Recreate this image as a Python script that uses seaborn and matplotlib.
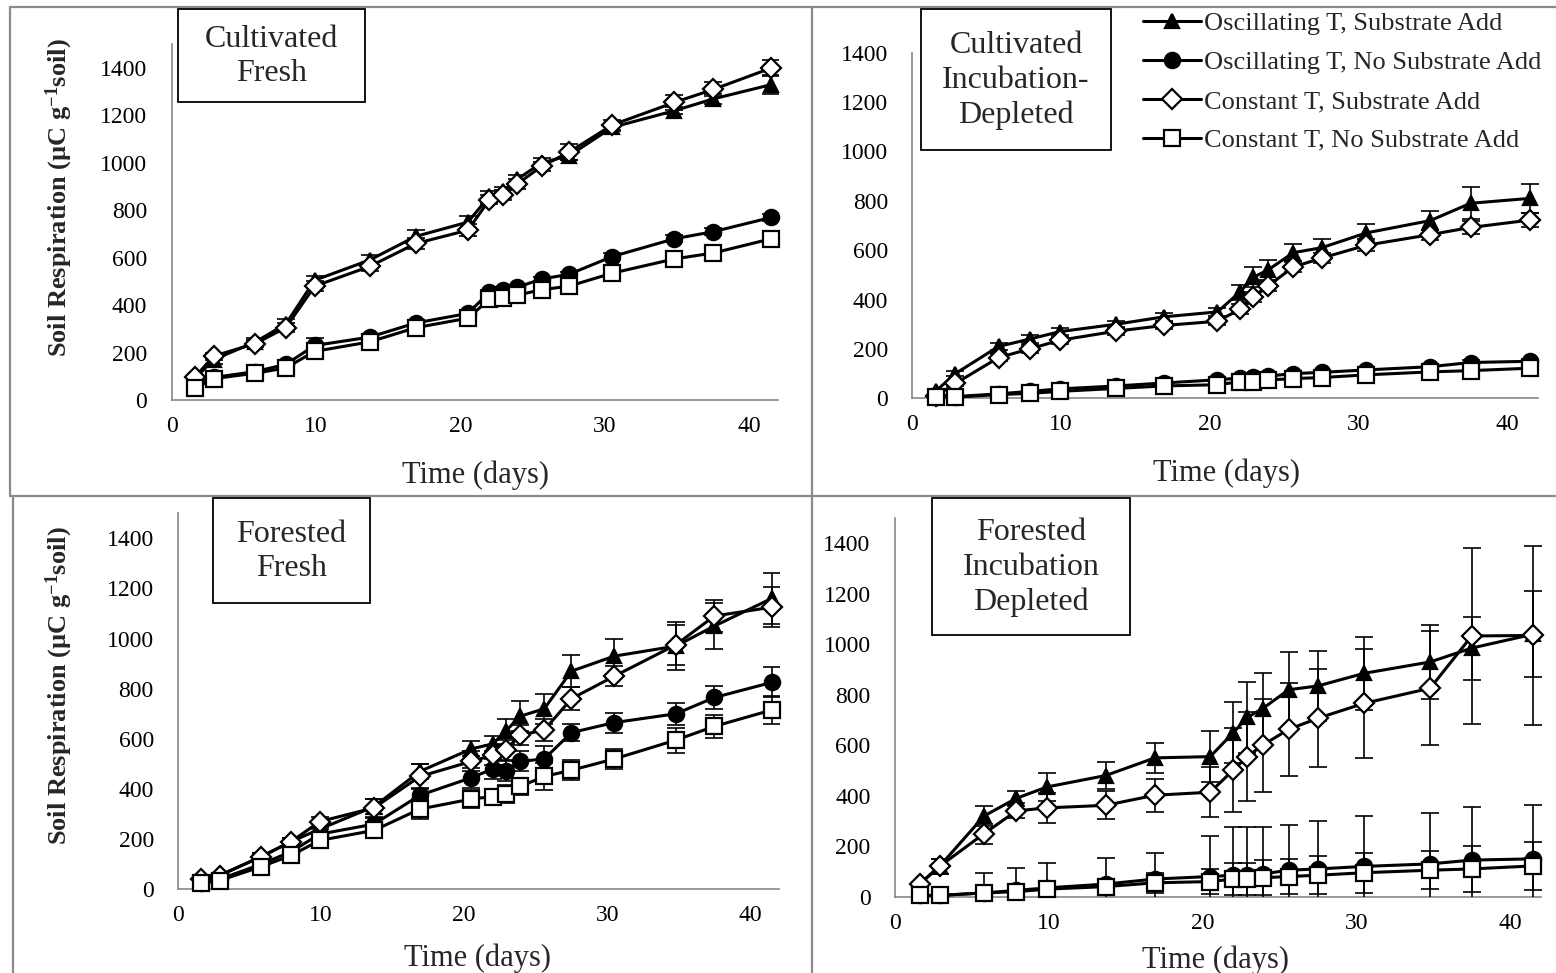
import matplotlib
matplotlib.use("Agg")
import matplotlib.pyplot as plt
import seaborn as sns
from matplotlib.patches import Rectangle
from matplotlib.lines import Line2D

# ---------------- data ----------------
days = [1.6, 2.9, 5.8, 7.9, 9.9, 13.7, 16.9, 20.5, 22.0, 22.9, 23.9, 25.6, 27.5, 30.5, 34.8, 37.5, 41.5]

series_labels = ["Oscillating T, Substrate Add", "Oscillating T, No Substrate Add",
                 "Constant T, Substrate Add", "Constant T, No Substrate Add"]
panel_titles = ["Cultivated\nFresh", "Cultivated\nIncubation-\nDepleted",
                "Forested\nFresh", "Forested\nIncubation\nDepleted"]
x_ticks = [0, 10, 20, 30, 40]
y_ticks = [0, 200, 400, 600, 800, 1000, 1200, 1400]

# Cultivated Fresh
cf_osc_sub = [90, 170, 245, 320, 505, 590, 690, 750, 860, 880, 930, 1000, 1030, 1150, 1220, 1270, 1330]
cf_osc_nosub = [70, 95, 120, 150, 230, 265, 325, 365, 455, 465, 475, 510, 530, 605, 680, 710, 770]
cf_con_sub = [95, 185, 238, 305, 480, 563, 660, 716, 845, 865, 910, 985, 1045, 1160, 1255, 1310, 1400]
cf_con_nosub = [50, 90, 113, 135, 205, 245, 305, 345, 425, 430, 442, 465, 480, 535, 595, 620, 680]
cf_osc_sub_err = [10, 20, 15, 20, 20, 20, 25, 25, 20, 20, 20, 20, 20, 15, 15, 20, 40]
cf_osc_nosub_err = [5, 10, 10, 10, 30, 10, 10, 10, 10, 10, 10, 10, 10, 15, 15, 15, 15]
cf_con_sub_err = [10, 15, 15, 20, 20, 20, 25, 25, 20, 20, 20, 20, 35, 20, 30, 30, 35]
cf_con_nosub_err = [5, 10, 10, 10, 15, 10, 10, 10, 10, 10, 10, 10, 10, 15, 15, 15, 15]

# Cultivated Incubation-Depleted
cid_osc_sub = [30, 100, 210, 240, 270, 300, 330, 350, 430, 490, 520, 590, 610, 670, 720, 790, 810]
cid_osc_nosub = [7, 7, 18, 28, 38, 50, 62, 75, 82, 85, 90, 100, 105, 115, 128, 145, 150]
cid_con_sub = [10, 60, 165, 200, 235, 272, 295, 312, 360, 410, 455, 532, 568, 620, 663, 692, 722]
cid_con_nosub = [5, 5, 15, 20, 28, 40, 50, 55, 67, 68, 74, 80, 84, 95, 107, 112, 122]
cid_osc_sub_err = [5, 10, 15, 15, 15, 15, 15, 15, 30, 40, 40, 35, 35, 35, 40, 65, 60]
cid_osc_nosub_err = [3, 3, 5, 5, 5, 5, 5, 5, 5, 5, 5, 8, 8, 8, 8, 10, 10]
cid_con_sub_err = [5, 10, 15, 15, 15, 15, 15, 15, 20, 20, 20, 20, 20, 25, 20, 25, 30]
cid_con_nosub_err = [3, 3, 5, 5, 5, 5, 5, 5, 5, 5, 5, 5, 5, 5, 5, 8, 8]

# Forested Fresh
ff_osc_sub = [35, 55, 130, 190, 240, 330, 470, 560, 580, 630, 690, 720, 870, 930, 970, 1050, 1160]
ff_osc_nosub = [25, 40, 100, 150, 220, 260, 375, 445, 480, 470, 510, 520, 625, 665, 700, 765, 825]
ff_con_sub = [40, 55, 130, 190, 270, 325, 450, 510, 535, 555, 615, 635, 760, 850, 975, 1090, 1125]
ff_con_nosub = [25, 35, 90, 135, 195, 235, 320, 360, 370, 380, 410, 450, 475, 520, 595, 650, 715]
ff_osc_sub_err = [10, 10, 15, 15, 20, 30, 30, 30, 30, 50, 60, 60, 65, 70, 95, 90, 100]
ff_osc_nosub_err = [5, 10, 15, 15, 20, 25, 30, 40, 40, 40, 40, 50, 35, 40, 45, 45, 60]
ff_con_sub_err = [10, 10, 15, 15, 20, 35, 50, 40, 40, 40, 40, 45, 45, 40, 80, 65, 80]
ff_con_nosub_err = [5, 10, 15, 15, 20, 20, 40, 35, 30, 35, 35, 55, 40, 40, 50, 45, 55]

# Forested Incubation Depleted
fid_osc_sub = [50, 120, 320, 390, 435, 480, 550, 555, 650, 710, 745, 820, 835, 885, 930, 985, 1040]
fid_osc_nosub = [5, 5, 15, 25, 35, 50, 70, 80, 85, 85, 90, 105, 110, 120, 130, 145, 150]
fid_con_sub = [50, 120, 250, 340, 352, 362, 402, 414, 502, 555, 600, 663, 707, 766, 826, 1033, 1035]
fid_con_nosub = [5, 5, 15, 20, 30, 40, 55, 60, 70, 70, 75, 80, 85, 95, 105, 110, 122]
fid_osc_sub_err = [10, 30, 40, 30, 55, 55, 60, 100, 120, 140, 140, 150, 140, 145, 145, 125, 170]
fid_osc_nosub_err = [5, 10, 80, 90, 100, 105, 105, 160, 190, 190, 185, 180, 190, 200, 200, 210, 215]
fid_con_sub_err = [10, 30, 40, 30, 60, 55, 65, 100, 165, 175, 185, 185, 195, 215, 225, 350, 355]
fid_con_nosub_err = [5, 5, 20, 25, 30, 30, 40, 50, 65, 65, 70, 70, 75, 80, 75, 90, 95]

panels = [
    ([cf_osc_sub, cf_osc_nosub, cf_con_sub, cf_con_nosub],
     [cf_osc_sub_err, cf_osc_nosub_err, cf_con_sub_err, cf_con_nosub_err]),
    ([cid_osc_sub, cid_osc_nosub, cid_con_sub, cid_con_nosub],
     [cid_osc_sub_err, cid_osc_nosub_err, cid_con_sub_err, cid_con_nosub_err]),
    ([ff_osc_sub, ff_osc_nosub, ff_con_sub, ff_con_nosub],
     [ff_osc_sub_err, ff_osc_nosub_err, ff_con_sub_err, ff_con_nosub_err]),
    ([fid_osc_sub, fid_osc_nosub, fid_con_sub, fid_con_nosub],
     [fid_osc_sub_err, fid_osc_nosub_err, fid_con_sub_err, fid_con_nosub_err]),
]

# ---------------- style ----------------
sns.set_style("white")
plt.rcParams["font.family"] = ["Liberation Serif", "DejaVu Serif"]
plt.rcParams["mathtext.fontset"] = "custom"
plt.rcParams["mathtext.rm"] = "Liberation Serif"
plt.rcParams["mathtext.bf"] = "Liberation Serif:bold"
plt.rcParams["mathtext.it"] = "Liberation Serif:italic"

W, H = 1556, 973
fig = plt.figure(figsize=(W / 100, H / 100), dpi=100)
fig.patch.set_facecolor("white")

SPINE = "#878787"

# axes rectangles in pixel units: (left, right, top, bottom, ymax)
ax_px = [
    (171.6, 778.5, 44.3, 400.0, 1500),
    (912.2, 1537.5, 52.7, 398.3, 1400),
    (178.1, 778.8, 513.2, 889.3, 1500),
    (894.9, 1540.9, 518.1, 896.7, 1500),
]

marker_styles = [
    dict(marker="^", mfc="black", ms=10),
    dict(marker="o", mfc="black", ms=11),
    dict(marker="D", mfc="white", ms=10),
    dict(marker="s", mfc="white", ms=12),
]

xlabel_coords = [(0.5, -0.171), (0.502, -0.173), (0.4976, -0.143), (0.497, -0.128)]
ylabel_coords = [(-0.159, 0.568), None, (-0.172, 0.541), None]

axes = []
for i, ((l, r, t, b, ymax), (vals, errs)) in enumerate(zip(ax_px, panels)):
    ax = fig.add_axes([l / W, 1 - b / H, (r - l) / W, (b - t) / H])
    axes.append(ax)
    ax.set_facecolor("none")
    for k in range(4):
        ax.errorbar(days, vals[k], yerr=errs[k], fmt="none", ecolor="black",
                    elinewidth=1.2, capsize=6.5, capthick=1.2, zorder=2 + k)
        st = marker_styles[k]
        sns.lineplot(x=days, y=vals[k], ax=ax, color="black", lw=2.2,
                     marker=st["marker"], ms=st["ms"], mfc=st["mfc"],
                     mec="black", mew=1.6, clip_on=False, legend=False,
                     label=series_labels[k], zorder=2.5 + k)
    ax.set_xlim(0, 42)
    ax.set_ylim(0, ymax)
    ax.set_xticks(x_ticks)
    ax.set_yticks(y_ticks)
    sns.despine(ax=ax)
    for side in ["left", "bottom"]:
        ax.spines[side].set_color(SPINE)
        ax.spines[side].set_linewidth(1.2)
    ax.tick_params(axis="both", direction="out", length=6.5, width=1.2,
                   color=SPINE, labelsize=17, labelcolor="black")
    ax.tick_params(axis="y", pad=11)
    ax.tick_params(axis="x", pad=5)
    ax.set_xlabel("Time (days)", fontsize=22)
    ax.xaxis.set_label_coords(*xlabel_coords[i])
    if ylabel_coords[i] is not None:
        ax.set_ylabel(r"Soil Respiration (µC g$^{\mathbf{-1}}$soil)",
                      fontsize=19, fontweight="bold")
        ax.yaxis.set_label_coords(*ylabel_coords[i])
    else:
        ax.set_ylabel("")

# ---------------- panel frames ----------------
GRID = "#8a8a8a"
def fline(x0, y0, x1, y1):
    fig.add_artist(Line2D([x0 / W, x1 / W], [1 - y0 / H, 1 - y1 / H],
                          transform=fig.transFigure, color=GRID, lw=1.6))

fline(10, 7, W, 7)
fline(10, 7, 10, 496)
fline(13, 496, 13, H)
fline(812, 7, 812, H)
fline(10, 496, W, 496)

# ---------------- title boxes ----------------
boxes = [(178, 365, 9, 102), (921, 1111, 9, 150), (213, 370, 498, 603), (932, 1130, 498, 635)]
for (x0, x1, y0, y1), title in zip(boxes, panel_titles):
    fig.add_artist(Rectangle((x0 / W, 1 - y1 / H), (x1 - x0) / W, (y1 - y0) / H,
                             transform=fig.transFigure, facecolor="white",
                             edgecolor="black", lw=1.3, zorder=5))
    fig.text((x0 + x1) / 2 / W, 1 - ((y0 + y1) / 2 + 1) / H, title,
             ha="center", va="center", fontsize=23, linespacing=1.27,
             multialignment="center", zorder=6)

# ---------------- legend ----------------
handles, labels = axes[1].get_legend_handles_labels()
fig.legend(handles[:4], labels[:4], loc="upper left",
           bbox_to_anchor=(1143 / W, 1 - 12 / H), bbox_transform=fig.transFigure,
           frameon=False, fontsize=19, handlelength=2.2, handletextpad=0.1,
           labelspacing=0.58, borderpad=0, borderaxespad=0)

fig.savefig("out.png", dpi=100)
